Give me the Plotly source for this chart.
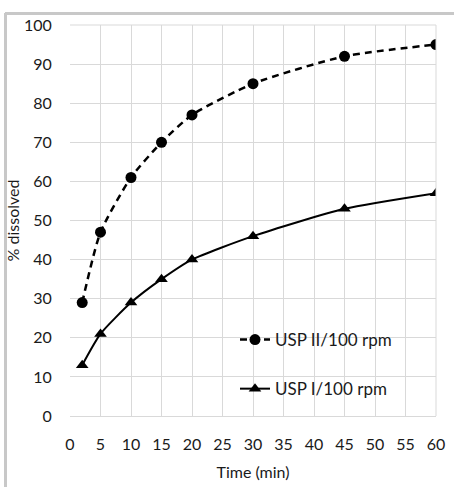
import plotly.graph_objects as go

time_min = [2, 5, 10, 15, 20, 30, 45, 60]
usp2_100 = [29, 47, 61, 70, 77, 85, 92, 95]
usp1_100 = [13, 21, 29, 35, 40, 46, 53, 57]

fig = go.Figure()
fig.add_trace(go.Scatter(
    x=time_min, y=usp2_100, name="USP II/100 rpm", mode="lines+markers",
    legendgroup="a",
    line=dict(color="black", width=2.5, dash="7px,5px", shape="spline", smoothing=0.6),
    marker=dict(symbol="circle", size=11, color="black"),
))
fig.add_trace(go.Scatter(
    x=time_min, y=usp1_100, name="USP I/100 rpm", mode="lines+markers",
    legendgroup="b",
    line=dict(color="black", width=2, shape="spline", smoothing=0.6),
    marker=dict(symbol="triangle-up", size=11, color="black"),
))

L, R, T, B = 70, 18, 25, 71
W, H = 454, 487
pw, ph = W - L - R, H - T - B
def px(x):
    return (x - L) / pw
def py(y):
    return (H - B - y) / ph

fig.update_layout(
    width=W, height=H,
    margin=dict(l=L, r=R, t=T, b=B, autoexpand=False),
    paper_bgcolor="white", plot_bgcolor="white",
    font=dict(family="Lato, Open Sans, sans-serif", color="#1a1a1a", size=16),
    showlegend=True,
    legend=dict(x=px(235), y=py(322), xanchor="left", yanchor="top",
                font=dict(size=17, color="#1a1a1a"), bgcolor="rgba(0,0,0,0)",
                tracegroupgap=24),
    xaxis=dict(range=[0, 60], dtick=5, tick0=0, showgrid=True, gridcolor="#d9d9d9",
               gridwidth=1, showline=True, linecolor="#d9d9d9", zeroline=False,
               ticks="outside", ticklen=14, tickcolor="rgba(0,0,0,0)", automargin=False,
               title=dict(text="Time (min)", font=dict(size=16), standoff=14),
               tickfont=dict(size=16)),
    yaxis=dict(range=[0, 100], dtick=10, tick0=0, showgrid=True, gridcolor="#d9d9d9",
               gridwidth=1, showline=False, zeroline=False, automargin=False,
               ticks="outside", ticklen=14, tickcolor="rgba(0,0,0,0)",
               title=dict(text="% dissolved", font=dict(size=16), standoff=0),
               tickfont=dict(size=16)),
    shapes=[
        dict(type="line", xref="paper", yref="paper", x0=1, x1=1, y0=0, y1=1,
             line=dict(color="#d9d9d9", width=1)),
        dict(type="line", xref="paper", yref="paper", x0=0, x1=1, y0=1, y1=1,
             line=dict(color="#d9d9d9", width=1)),
        dict(type="line", xref="paper", yref="paper", x0=px(5), x1=px(5), y0=py(13), y1=py(487),
             line=dict(color="#c8c8c8", width=2)),
        dict(type="line", xref="paper", yref="paper", x0=px(5), x1=px(454), y0=py(13), y1=py(13),
             line=dict(color="#c8c8c8", width=2)),
    ],
)

post = """
document.body.style.margin='0';
var b=document.createElement('div');
b.style.cssText='position:fixed;left:5px;top:13px;width:449px;height:474px;border-left:2px solid #c8c8c8;border-top:2px solid #c8c8c8;pointer-events:none;box-sizing:border-box;z-index:9999;';
document.body.appendChild(b);
"""
fig.write_html("out.html", config={"displayModeBar": False}, post_script=post)
